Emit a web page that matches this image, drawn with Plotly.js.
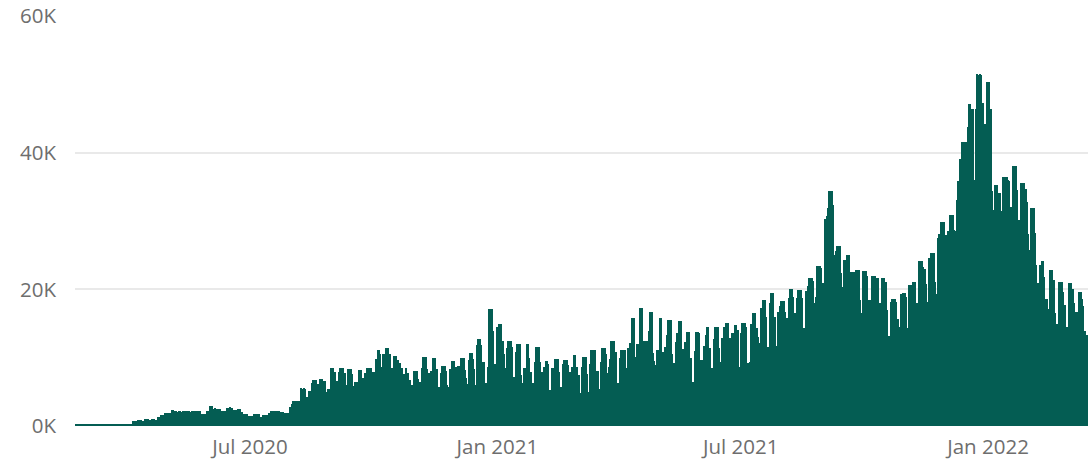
<!DOCTYPE html>
<html><head><meta charset="utf-8">
<script src="https://cdn.plot.ly/plotly-3.0.1.min.js"></script>
<style>html,body{margin:0;padding:0;background:#fff;}#chart{width:1088px;height:463px;}</style>
</head><body><div id="chart"></div>
<script>
// Daily values, first day = 2020-02-22
const m2020_02 = [340,360,330,350,340,360,350,340];
const m2020_03 = [350,340,360,350,330,350,360,340,350,350,340,360,350,340,350,360,350,340,330,350,360,350,340,350,360,350,340,350,360,350,340];
const m2020_04 = [350,340,360,350,720,740,730,600,880,870,890,700,710,980,970,990,880,870,980,990,970,880,870,1270,1280,1610,1600,1620,1850,1840];
const m2020_05 = [1850,1860,1850,2340,2330,2150,2180,2120,2200,2150,2100,2180,2220,2150,2130,2200,2170,2100,2150,2200,2160,2120,2180,2200,2210,1750,1760,1740,1750,2200,2190];
const m2020_06 = [2900,2880,2910,2550,2570,2530,2550,2560,2540,2200,2210,2190,2200,2700,2690,2710,2700,2680,2350,2340,2360,2450,2440,2460,2000,1750,1760,1740,1750,1460];
const m2020_07 = [1460,1450,1470,1750,1740,1760,1750,1740,1360,1370,1600,1610,1590,1600,1950,1960,2200,2210,2190,2200,2220,2190,2200,2050,2040,2060,1950,1940,1960,1950,2830];
const m2020_08 = [3200,3700,3690,3710,3700,3680,3650,5500,5480,5510,5400,4300,4310,5100,5120,6300,6700,6690,6710,6100,6110,6900,6880,6910,6600,6590,5020,5410,5400,8490,8480];
const m2020_09 = [8490,7850,6580,6570,7950,8440,8430,8450,7800,7810,6000,8290,8280,8300,7560,5850,6480,6470,6490,8190,8180,8200,6980,6480,7700,8490,8480,8500,8490,7900];
const m2020_10 = [7900,7890,9800,11120,11100,10490,8680,10530,10520,11370,11360,11380,10530,8530,8520,10290,10280,10300,9660,9170,9160,8530,7610,7600,8440,7700,7690,6800,6000,6010,8000];
const m2020_11 = [8000,8010,6880,6490,6480,8440,10050,10040,10060,8300,7700,6240,8000,9900,9890,9910,8300,5750,5760,7700,8780,8770,8790,8000,6000,5750,8300,9510,9500,9520];
const m2020_12 = [8600,6490,8800,8790,9900,9890,9910,8200,7000,6140,9700,10730,10720,9800,8400,6000,11800,12680,12670,11800,9400,9390,5510,6340,8600,17070,17060,17080,13900,9070,9060];
const m2021_01 = [14500,14900,14890,14910,12400,10500,8530,11450,12400,12390,12410,11600,7200,7190,10900,12000,11990,12010,7500,6340,8440,8430,12000,11990,9900,7950,6340,6330,9400,11550,11540];
const m2021_02 = [11550,9400,7950,6000,8630,9500,9490,9070,5270,5260,8440,8430,9750,9740,9760,7950,5750,5740,9030,9660,9650,9670,9000,7950,4880,8600,10400,10390];
const m2021_03 = [8600,7460,7450,4850,8680,10050,10040,10060,7600,4930,9070,11100,11090,11110,11100,8090,8080,5370,9300,11370,11360,11380,10500,7700,8700,9750,12430,12420,12440,10780,4540];
const m2021_04 = [6240,9900,11100,11090,11110,11100,8530,11370,11360,12190,15750,15740,15760,10140,12000,11990,17200,17190,17210,12480,10730,12480,12470,13950,16630,16620,10730,9500,8920,11120];
const m2021_05 = [11120,15750,15740,10870,10860,11600,13310,15510,15500,15520,10530,9170,9160,12330,13560,15360,15350,15370,11220,9660,12330,13700,13690,13710,9900,6490,6480,11000,13700,13690,13560];
const m2021_06 = [9660,9650,9670,11700,13310,14440,14430,11370,8440,8430,12730,14440,14430,14450,11370,9400,12830,12820,14440,15120,15110,15130,12830,8680,13650,13640,14780,14770,14050,8680];
const m2021_07 = [13650,15120,15110,15130,14530,9170,9160,9400,14920,16580,16570,16590,14290,13000,12100,17220,17210,18430,18420,15990,11600,11590,17950,19500,19490,15990,15980,11750,16680,17500,18290];
const m2021_08 = [18290,18280,16730,15840,15830,18680,20040,20030,18920,16480,16470,18680,19900,19890,19910,18680,14290,14280,19750,20480,21610,21600,21620,21170,18040,18820,23410,23400,23420,23070,20970];
const m2021_09 = [20970,30300,30720,31850,34380,34370,34390,32330,25020,25650,26330,26320,26340,22430,20380,24290,24280,25020,25010,25030,22580,21110,22580,22570,22820,22810,22830,18430,16580,22680];
const m2021_10 = [22680,22670,21950,18430,18420,15510,21950,21940,21960,21700,21690,18040,18030,21610,21600,21620,21110,16970,13170,13160,18190,18530,18520,18540,18190,15650,14530,19260,19250,19510,19500];
const m2021_11 = [18820,14290,20630,20620,20640,21110,21100,21120,18000,17560,24140,24130,24150,23210,22920,20770,18190,24600,24590,25360,25350,25370,21110,19310,27460,28090,29800,29790,29810,28000];
const m2021_12 = [27900,28530,28520,30870,30860,30880,28620,28610,33060,35890,39060,39050,41550,41540,41560,41500,43700,47110,47100,46380,46370,36000,46380,51500,51400,51500,51300,47300,44180,44170,50330];
const m2022_01 = [50330,50320,46330,34380,31600,35260,35250,35270,34130,34120,31450,36380,36370,36390,36380,36000,35850,32100,32090,38040,38030,38050,34500,30140,28680,35500,35490,35510,34630,32800,28090];
const m2022_02 = [25750,31850,31840,31860,28280,23550,20870,20860,23550,24140,24130,21750,18580,18570,17120,22820,22810,22830,21360,16580,14920,14910,21070,21060,21080,19650,17700,14530];
const m2022_03 = [14530,20870,20860,20880,20000,17950,16650,16640,14290,19560,19550,18600,17500,13900,13310,13300];

const yTickValues = [0, 20000, 40000, 60000];
const yTickLabels = ['0K', '20K', '40K', '60K'];
const xTickValues = ['2020-07-01', '2021-01-01', '2021-07-01', '2022-01-01'];
const xTickLabels = ['Jul 2020', 'Jan 2021', 'Jul 2021', 'Jan 2022'];

const values = [].concat(m2020_02, m2020_03, m2020_04, m2020_05, m2020_06, m2020_07, m2020_08,
  m2020_09, m2020_10, m2020_11, m2020_12, m2021_01, m2021_02, m2021_03, m2021_04, m2021_05,
  m2021_06, m2021_07, m2021_08, m2021_09, m2021_10, m2021_11, m2021_12, m2022_01, m2022_02, m2022_03);
const dates = values.map((_, k) => {
  const d = new Date(Date.UTC(2020, 1, 22));
  d.setUTCDate(d.getUTCDate() + k);
  return d.toISOString().slice(0, 10);
});

const trace = {
  type: 'bar', x: dates, y: values,
  width: 86400000,
  marker: {color: '#045d53', line: {width: 0}},
  hoverinfo: 'x+y'
};
const font = {family: '"Segoe UI", "Open Sans", "Noto Sans", sans-serif', size: 20.5, color: '#6e6e6e'};
const layout = {
  width: 1088, height: 463,
  margin: {l: 75, r: 0, t: 16, b: 37, pad: 0},
  paper_bgcolor: '#ffffff', plot_bgcolor: '#ffffff',
  font: font,
  bargap: 0,
  showlegend: false,
  xaxis: {
    type: 'date',
    range: ['2020-02-21 19:12:00', '2022-03-16 08:24:00'],
    tickvals: xTickValues, ticktext: xTickLabels,
    showgrid: false, zeroline: false, showline: false,
    ticks: '', ticklabelstandoff: 6,
    tickfont: font, fixedrange: true
  },
  yaxis: {
    range: [0, 60000],
    tickvals: yTickValues, ticktext: yTickLabels,
    showgrid: true, gridcolor: '#e9e9e9', gridwidth: 2,
    zeroline: false, showline: false, ticks: '',
    ticklabelstandoff: 18,
    tickfont: font, fixedrange: true
  }
};
Plotly.newPlot('chart', [trace], layout, {displayModeBar: false, responsive: false});
</script>
</body></html>
